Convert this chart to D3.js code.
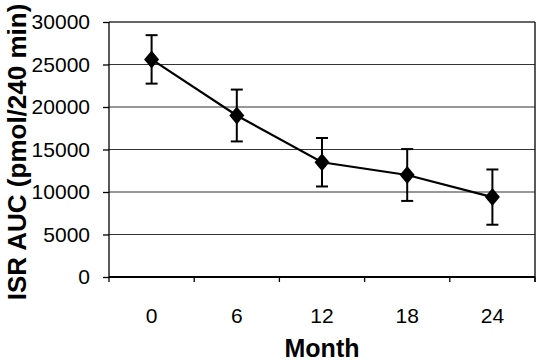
<!DOCTYPE html>
<html>
<head>
<meta charset="utf-8">
<script src="https://cdn.jsdelivr.net/npm/d3@7"></script>
<style>
  body { margin: 0; background: #fff; }
  text { font-family: "Liberation Sans", Arial, sans-serif; fill: #000; }
</style>
</head>
<body>
<div id="chart"></div>
<script>
// data
var months = ["0", "6", "12", "18", "24"];
var isrAuc = [25600, 19000, 13500, 12000, 9400];
var isrErr = [2850, 3050, 2850, 3050, 3250];
var yTicks = [0, 5000, 10000, 15000, 20000, 25000, 30000];

var W = 540, H = 362;
var margin = {top: 22, right: 5, bottom: 85, left: 109},
  width = W - margin.left - margin.right,
  height = H - margin.top - margin.bottom;

var svg = d3.select("#chart")
.append("svg")
  .attr("width", W)
  .attr("height", H)
.append("g")
  .attr("transform", "translate(" + margin.left + "," + margin.top + ")");

var x = d3.scaleBand()
  .domain(months)
  .range([0, width]);

var y = d3.scaleLinear()
  .domain([0, 30000])
  .range([height, 0]);

// horizontal gridlines
svg.selectAll("grid")
  .data(yTicks.slice(1))
  .enter().append("line")
  .attr("x1", 0).attr("x2", width)
  .attr("y1", function(d) { return y(d); })
  .attr("y2", function(d) { return y(d); })
  .style("stroke", "#333")
  .style("stroke-width", function(d) { return d == 30000 ? 1.6 : 1.2; });

// right border
svg.append("line")
  .attr("x1", width).attr("x2", width)
  .attr("y1", 0).attr("y2", height + 5)
  .style("stroke", "#222")
  .style("stroke-width", 1.5);

// y axis
var yAxis = svg.append("g")
  .call(d3.axisLeft(y).tickValues(yTicks).tickSize(6).tickPadding(13).tickFormat(d3.format("d")));
yAxis.selectAll("text").style("font-size", "21px");
yAxis.selectAll("line, path").style("stroke", "#000").style("stroke-width", 1.3);
yAxis.select("path").attr("d", "M0," + height + "V0");

// x axis, ticks between categories
var bounds = months.map(function(m) { return x(m); }).concat([width]);
var xAxis = svg.append("g")
  .attr("transform", "translate(0," + height + ")");
xAxis.append("line")
  .attr("x1", 0).attr("x2", width)
  .style("stroke", "#000").style("stroke-width", 2);
xAxis.selectAll("tk")
  .data(bounds)
  .enter().append("line")
  .attr("x1", function(d) { return d; })
  .attr("x2", function(d) { return d; })
  .attr("y1", 0).attr("y2", 5)
  .style("stroke", "#000").style("stroke-width", 1.3);
xAxis.selectAll("lbl")
  .data(months)
  .enter().append("text")
  .attr("x", function(d) { return x(d) + x.bandwidth() / 2; })
  .attr("y", 46)
  .style("text-anchor", "middle")
  .style("font-size", "21px")
  .text(function(d) { return d; });

var cx = function(i) { return x(months[i]) + x.bandwidth() / 2; };

// error bars
var eb = svg.selectAll("eb")
  .data(isrAuc)
  .enter().append("g");
eb.append("line")
  .attr("x1", function(d, i) { return cx(i); })
  .attr("x2", function(d, i) { return cx(i); })
  .attr("y1", function(d, i) { return y(d + isrErr[i]); })
  .attr("y2", function(d, i) { return y(d - isrErr[i]); })
  .style("stroke", "#000").style("stroke-width", 2);
[1, -1].forEach(function(s) {
  eb.append("line")
    .attr("x1", function(d, i) { return cx(i) - 6; })
    .attr("x2", function(d, i) { return cx(i) + 6; })
    .attr("y1", function(d, i) { return y(d + s * isrErr[i]); })
    .attr("y2", function(d, i) { return y(d + s * isrErr[i]); })
    .style("stroke", "#000").style("stroke-width", 2);
});

// line
svg.append("path")
  .datum(isrAuc)
  .attr("d", d3.line().x(function(d, i) { return cx(i); }).y(function(d) { return y(d); }))
  .style("fill", "none")
  .style("stroke", "#000")
  .style("stroke-width", 2.2);

// diamond markers
svg.selectAll("pt")
  .data(isrAuc)
  .enter().append("path")
  .attr("transform", function(d, i) { return "translate(" + cx(i) + "," + y(d) + ")"; })
  .attr("d", "M0,-9L7.5,0L0,9L-7.5,0Z")
  .style("fill", "#000");

// axis titles
svg.append("text")
  .attr("x", width / 2)
  .attr("y", height + 80)
  .style("text-anchor", "middle")
  .style("font-size", "25px")
  .style("font-weight", "bold")
  .text("Month");

svg.append("text")
  .attr("transform", "translate(" + (26 - margin.left) + "," + (152 - margin.top) + ") rotate(-90)")
  .style("text-anchor", "middle")
  .style("font-size", "26px")
  .style("font-weight", "bold")
  .text("ISR AUC (pmol/240 min)");
</script>
</body>
</html>
